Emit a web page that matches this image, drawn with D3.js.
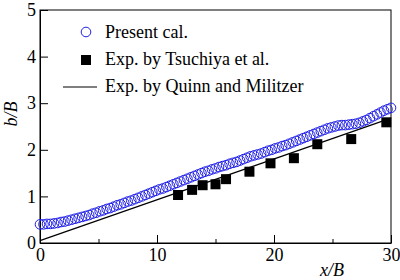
<!DOCTYPE html>
<html>
<head>
<meta charset="utf-8">
<script src="https://cdn.jsdelivr.net/npm/d3@7"></script>
<style>
  body { margin: 0; background: #fff; }
  text { font-family: "Liberation Serif", "Times New Roman", serif; }
</style>
</head>
<body>
<svg id="chart" width="400" height="280"></svg>
<script>
// Present calculation (circles)
const presentX = [0.0, 0.3, 0.6, 0.9, 1.2, 1.5, 1.8, 2.1, 2.4, 2.7,
  3.0, 3.3, 3.6, 3.9, 4.2, 4.5, 4.8, 5.1, 5.4, 5.7,
  6.0, 6.3, 6.6, 6.9, 7.2, 7.5, 7.8, 8.1, 8.4, 8.7,
  9.0, 9.3, 9.6, 9.9, 10.2, 10.5, 10.8, 11.1, 11.4, 11.7,
  12.0, 12.3, 12.6, 12.9, 13.2, 13.5, 13.8, 14.1, 14.4, 14.7,
  15.0, 15.3, 15.6, 15.9, 16.2, 16.5, 16.8, 17.1, 17.4, 17.7,
  18.0, 18.3, 18.6, 18.9, 19.2, 19.5, 19.8, 20.1, 20.4, 20.7,
  21.0, 21.3, 21.6, 21.9, 22.2, 22.5, 22.8, 23.1, 23.4, 23.7,
  24.0, 24.3, 24.6, 24.9, 25.2, 25.5, 25.8, 26.1, 26.4, 26.7,
  27.0, 27.3, 27.6, 27.9, 28.2, 28.5, 28.8, 29.1, 29.4, 29.7, 30.0];
const presentY = [0.40, 0.40, 0.41, 0.41, 0.42, 0.43, 0.45, 0.46, 0.48, 0.50,
  0.52, 0.54, 0.56, 0.58, 0.60, 0.63, 0.65, 0.68, 0.70, 0.73,
  0.75, 0.78, 0.81, 0.83, 0.86, 0.89, 0.91, 0.94, 0.97, 1.00,
  1.03, 1.06, 1.09, 1.12, 1.15, 1.17, 1.20, 1.23, 1.26, 1.29,
  1.32, 1.35, 1.38, 1.41, 1.44, 1.47, 1.50, 1.53, 1.55, 1.58,
  1.60, 1.63, 1.65, 1.67, 1.70, 1.72, 1.74, 1.77, 1.80, 1.83,
  1.86, 1.88, 1.90, 1.92, 1.95, 1.98, 2.00, 2.03, 2.05, 2.08,
  2.10, 2.13, 2.16, 2.19, 2.22, 2.25, 2.28, 2.31, 2.34, 2.37,
  2.40, 2.43, 2.46, 2.48, 2.50, 2.52, 2.53, 2.53, 2.54, 2.55,
  2.56, 2.58, 2.61, 2.64, 2.68, 2.72, 2.76, 2.80, 2.84, 2.87, 2.90];

// Exp. by Tsuchiya et al. (squares)
const tsuX = [11.8, 13.0, 13.9, 15.0, 15.9, 17.9, 19.7, 21.7, 23.7, 26.6, 29.6];
const tsuY = [1.03, 1.14, 1.24, 1.26, 1.37, 1.53, 1.71, 1.82, 2.12, 2.23, 2.59];

// Exp. by Quinn and Militzer (line)
const quinnX = [0, 30];
const quinnY = [0.05, 2.68];

const legendLabels = ["Present cal.", "Exp. by Tsuchiya et al.", "Exp. by Quinn and Militzer"];
const xTicks = [0, 10, 20, 30];
const xMinorTicks = [5, 15, 25];
const yTicks = [0, 1, 2, 3, 4, 5];

const svg = d3.select("#chart"),
    margin = {top: 10, right: 9, bottom: 37, left: 40},
    width = +svg.attr("width") - margin.left - margin.right,
    height = +svg.attr("height") - margin.top - margin.bottom;

const x = d3.scaleLinear().domain([0, 30]).range([0, width]);
const y = d3.scaleLinear().domain([0, 5]).range([height, 0]);
const fmt = d3.format("d");

const g = svg.append("g").attr("transform", `translate(${margin.left},${margin.top})`);

// frame
g.append("rect")
    .attr("width", width).attr("height", height)
    .attr("fill", "none").attr("stroke", "#000").attr("stroke-width", 1);

// minor x ticks
g.append("g")
    .attr("transform", `translate(0,${height})`)
    .call(d3.axisBottom(x).tickValues(xMinorTicks).tickSizeInner(-4).tickSizeOuter(0).tickFormat(""))
    .call(a => a.select(".domain").remove());

const xAxis = g.append("g")
    .attr("transform", `translate(0,${height})`)
    .call(d3.axisBottom(x).tickValues(xTicks).tickFormat(fmt).tickSizeInner(-8).tickSizeOuter(0).tickPadding(5));

const yAxis = g.append("g")
    .call(d3.axisLeft(y).tickValues(yTicks).tickFormat(fmt).tickSizeInner(-8).tickSizeOuter(0).tickPadding(4));

[xAxis, yAxis].forEach(a => {
    a.attr("font-family", null);
    a.selectAll("text").attr("font-size", 18).attr("fill", "#000");
    a.selectAll("line").attr("stroke", "#000");
    a.select(".domain").attr("stroke", "#000");
});

// Quinn line
const quinn = quinnX.map((d, i) => [d, quinnY[i]]);
g.append("path")
    .datum(quinn)
    .attr("fill", "none").attr("stroke", "#000").attr("stroke-width", 1.2)
    .attr("d", d3.line().x(d => x(d[0])).y(d => y(d[1])));

// Tsuchiya squares
const sq = 10;
g.selectAll(".sq")
    .data(tsuX.map((d, i) => [d, tsuY[i]]))
    .enter().append("rect")
    .attr("class", "sq")
    .attr("x", d => x(d[0]) - sq / 2).attr("y", d => y(d[1]) - sq / 2)
    .attr("width", sq).attr("height", sq)
    .attr("fill", "#000");

// Present calculation circles
g.selectAll(".dot")
    .data(presentX.map((d, i) => [d, presentY[i]]))
    .enter().append("circle")
    .attr("class", "dot")
    .attr("cx", d => x(d[0])).attr("cy", d => y(d[1]))
    .attr("r", 4.8)
    .attr("fill", "none").attr("stroke", "#2020e8").attr("stroke-width", 1);

// legend
const lg = svg.append("g");
lg.append("circle").attr("cx", 86).attr("cy", 32).attr("r", 4.8)
    .attr("fill", "none").attr("stroke", "#2020e8").attr("stroke-width", 1);
lg.append("rect").attr("x", 81).attr("y", 55).attr("width", sq).attr("height", sq).attr("fill", "#000");
lg.append("line").attr("x1", 63).attr("x2", 97).attr("y1", 87).attr("y2", 87)
    .attr("stroke", "#000").attr("stroke-width", 1.2);
lg.selectAll("text")
    .data(legendLabels)
    .enter().append("text")
    .attr("x", 105).attr("y", (d, i) => 38 + i * 27)
    .attr("font-size", 18)
    .text(d => d);

// axis titles
svg.append("text")
    .attr("x", 332).attr("y", 276)
    .attr("text-anchor", "middle")
    .attr("font-size", 18).attr("font-style", "italic")
    .text("x/B");

svg.append("text")
    .attr("transform", "translate(17,114) rotate(-90)")
    .attr("text-anchor", "middle")
    .attr("font-size", 18).attr("font-style", "italic")
    .text("b/B");
</script>
</body>
</html>
